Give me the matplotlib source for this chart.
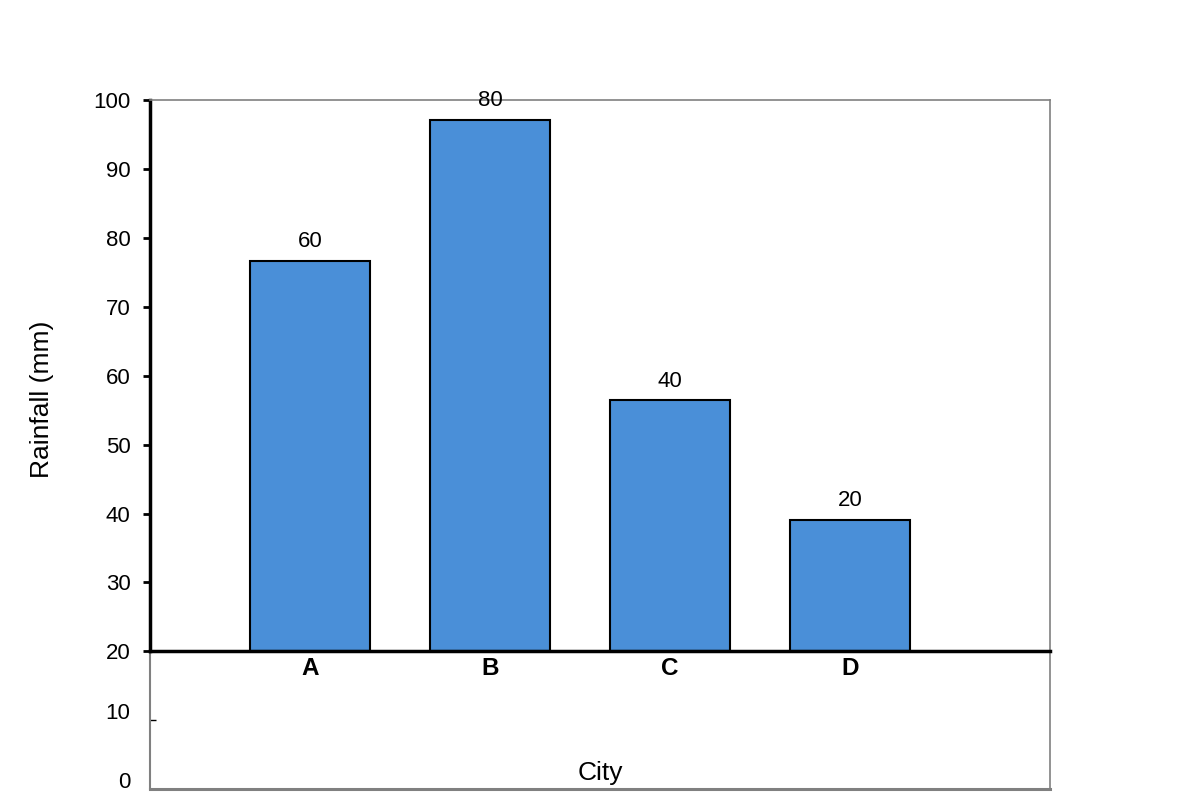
import numpy as np
import matplotlib
matplotlib.use('Agg')
import matplotlib.pyplot as plt
import matplotlib.lines as mlines
import matplotlib.transforms as mtransforms

plt.rcParams['font.family'] = ['Liberation Sans', 'DejaVu Sans']

# data
cities = ['A', 'B', 'C', 'D']
bar_tops = [76.7, 97.1, 56.4, 39.0]     # where the bars end on the (truncated) y axis
bar_labels = ['60', '80', '40', '20']    # values printed above the bars
baseline = 20
y_ticks = [0, 10, 20, 30, 40, 50, 60, 70, 80, 90, 100]

BAR_COLOR = '#4A8FD8'
GRAY = '#808080'

fig = plt.figure(figsize=(12, 8), dpi=100)
ax = fig.add_axes([0.125, 0.0135, 0.75, 0.8615])

x = np.arange(len(cities))
heights = np.array(bar_tops) - baseline
bars = ax.bar(x, heights, bottom=baseline, width=0.667, color=BAR_COLOR,
              edgecolor='black', linewidth=1.5, zorder=3)

for b, lab in zip(bars, bar_labels):
    ax.annotate(lab, (b.get_x() + b.get_width() / 2, b.get_y() + b.get_height()),
                textcoords='offset points', xytext=(0, 14), ha='center', va='center',
                fontsize=16)

ax.set_xlim(-0.889, 4.111)
ax.set_ylim(0, 100)

# frame: gray box, black axis line at the baseline
for s in ['top', 'right']:
    ax.spines[s].set_color(GRAY)
    ax.spines[s].set_linewidth(1.2)
ax.spines['bottom'].set_position(('data', baseline))
ax.spines['bottom'].set_color('black')
ax.spines['bottom'].set_linewidth(2.5)
ax.spines['bottom'].set_zorder(4)
ax.spines['left'].set_bounds(baseline, 100)
ax.spines['left'].set_color('black')
ax.spines['left'].set_linewidth(2.5)
ax.axhline(0, color=GRAY, lw=2.2, clip_on=False)
ax.axvline(ax.get_xlim()[0], ymin=0, ymax=baseline / 100, color=GRAY, lw=1.5, clip_on=False)

ax.set_xticks(x)
ax.set_xticklabels(cities, fontsize=17.5, fontweight='bold')
ax.tick_params(axis='x', length=0, pad=4)

ax.set_yticks(y_ticks)
ax.set_yticklabels([str(t) for t in y_ticks], fontsize=16)
ax.tick_params(axis='y', length=5, width=2, color='black', pad=9)
for t, val in zip(ax.yaxis.get_major_ticks(), y_ticks):
    if val < baseline:
        t.tick1line.set_marker(mlines.TICKRIGHT)
        t.tick1line.set_color(GRAY)
        t.tick1line.set_markersize(4)
        t.tick1line.set_markeredgewidth(1)
        t.label1.set_transform(t.label1.get_transform() +
                               mtransforms.ScaledTranslation(0, 9 / 100, fig.dpi_scale_trans))

ax.set_xlabel('City', fontsize=19)
ax.xaxis.set_label_coords(0.5, 0.024)
ax.xaxis.label.set_va('center')
ax.set_ylabel('Rainfall (mm)', fontsize=19)
ax.yaxis.set_label_coords(-0.12, 0.565)
ax.yaxis.label.set_va('center')

fig.savefig('out.png', dpi=100)
